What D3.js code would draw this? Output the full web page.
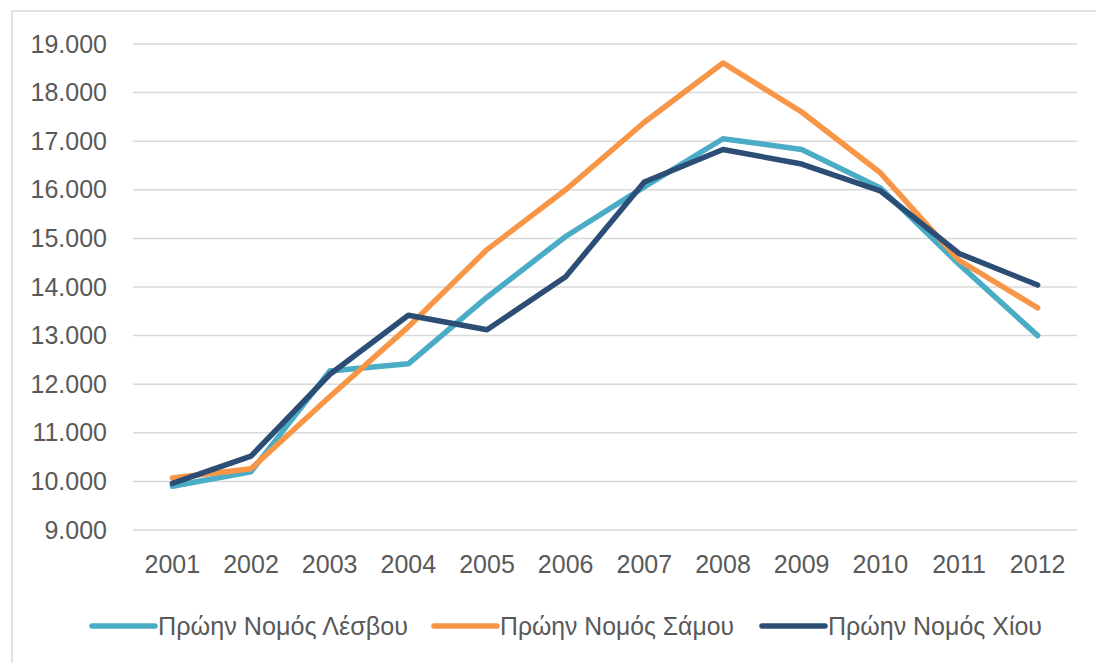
<!DOCTYPE html>
<html>
<head>
<meta charset="utf-8">
<script src="https://cdn.jsdelivr.net/npm/d3@7"></script>
<style>
  body { margin: 0; background: #fff; }
  text { font-family: "Liberation Sans", Arial, sans-serif; fill: #595959; }
</style>
</head>
<body>
<svg id="chart" width="1096" height="663"></svg>
<script>
// data
var years = ["2001","2002","2003","2004","2005","2006","2007","2008","2009","2010","2011","2012"];
var lesvos = [9900, 10200, 12270, 12420, 13790, 15040, 16060, 17050, 16830, 16040, 14470, 13000];
var samos  = [10070, 10260, 11740, 13180, 14770, 16000, 17390, 18610, 17600, 16350, 14550, 13570];
var chios  = [9960, 10520, 12200, 13420, 13120, 14210, 16160, 16830, 16530, 15980, 14690, 14040];
var seriesNames = ["Πρώην Νομός Λέσβου", "Πρώην Νομός Σάμου", "Πρώην Νομός Χίου"];
var seriesColors = ["#4bacc6", "#f79646", "#2c4d75"];
var yTicks = [9000, 10000, 11000, 12000, 13000, 14000, 15000, 16000, 17000, 18000, 19000];

var svg = d3.select("#chart");
var W = 1096, H = 663;

// chart frame
svg.append("rect").attr("x", 12).attr("y", 11)
    .attr("width", W).attr("height", H)
    .attr("fill", "#fff").attr("stroke", "#d9d9d9").attr("stroke-width", 1.5);

var x = d3.scaleBand().domain(years).range([133, 1077]);
var y = d3.scaleLinear().domain([9000, 19000]).range([530, 44]);

var gr = d3.formatLocale({decimal: ",", thousands: ".", grouping: [3], currency: ["", "€"]});
var fmt = gr.format(",d");

// gridlines
svg.append("g").selectAll("line").data(yTicks).enter().append("line")
    .attr("x1", 133).attr("x2", 1077)
    .attr("y1", function(d){ return y(d); }).attr("y2", function(d){ return y(d); })
    .attr("stroke", "#d9d9d9").attr("stroke-width", 1.5);

var yAxis = svg.append("g").attr("transform", "translate(133,0)")
    .call(d3.axisLeft(y).tickValues(yTicks).tickFormat(fmt).tickSize(0).tickPadding(26));
yAxis.select(".domain").remove();
yAxis.selectAll("text").attr("font-size", 25).style("font-family", "Liberation Sans").attr("fill", "#595959");

var xAxis = svg.append("g").attr("transform", "translate(0,530)")
    .call(d3.axisBottom(x).tickSize(0).tickPadding(25));
xAxis.select(".domain").remove();
xAxis.selectAll("text").attr("font-size", 25).style("font-family", "Liberation Sans").attr("fill", "#595959");

var line = d3.line()
    .x(function(d, i){ return x(years[i]) + x.bandwidth() / 2; })
    .y(function(d){ return y(d); });

var allSeries = [lesvos, samos, chios];
svg.append("g").selectAll("path").data(allSeries).enter().append("path")
    .attr("d", line)
    .attr("fill", "none")
    .attr("stroke", function(d, i){ return seriesColors[i]; })
    .attr("stroke-width", 5.5)
    .attr("stroke-linecap", "round")
    .attr("stroke-linejoin", "round");

// legend
var legendX = [92, 434, 762];
var legendW = [250, 234, 214];
var legend = svg.append("g").selectAll("g").data(seriesNames).enter().append("g")
    .attr("transform", function(d, i){ return "translate(" + legendX[i] + ",626)"; });
legend.append("line").attr("x1", 0).attr("x2", 63).attr("y1", 0).attr("y2", 0)
    .attr("stroke", function(d, i){ return seriesColors[i]; })
    .attr("stroke-width", 5.5).attr("stroke-linecap", "round");
legend.append("text").attr("x", 66).attr("dy", "0.35em")
    .attr("font-size", 26)
    .attr("textLength", function(d, i){ return legendW[i]; })
    .attr("lengthAdjust", "spacingAndGlyphs")
    .text(function(d){ return d; });
</script>
</body>
</html>
